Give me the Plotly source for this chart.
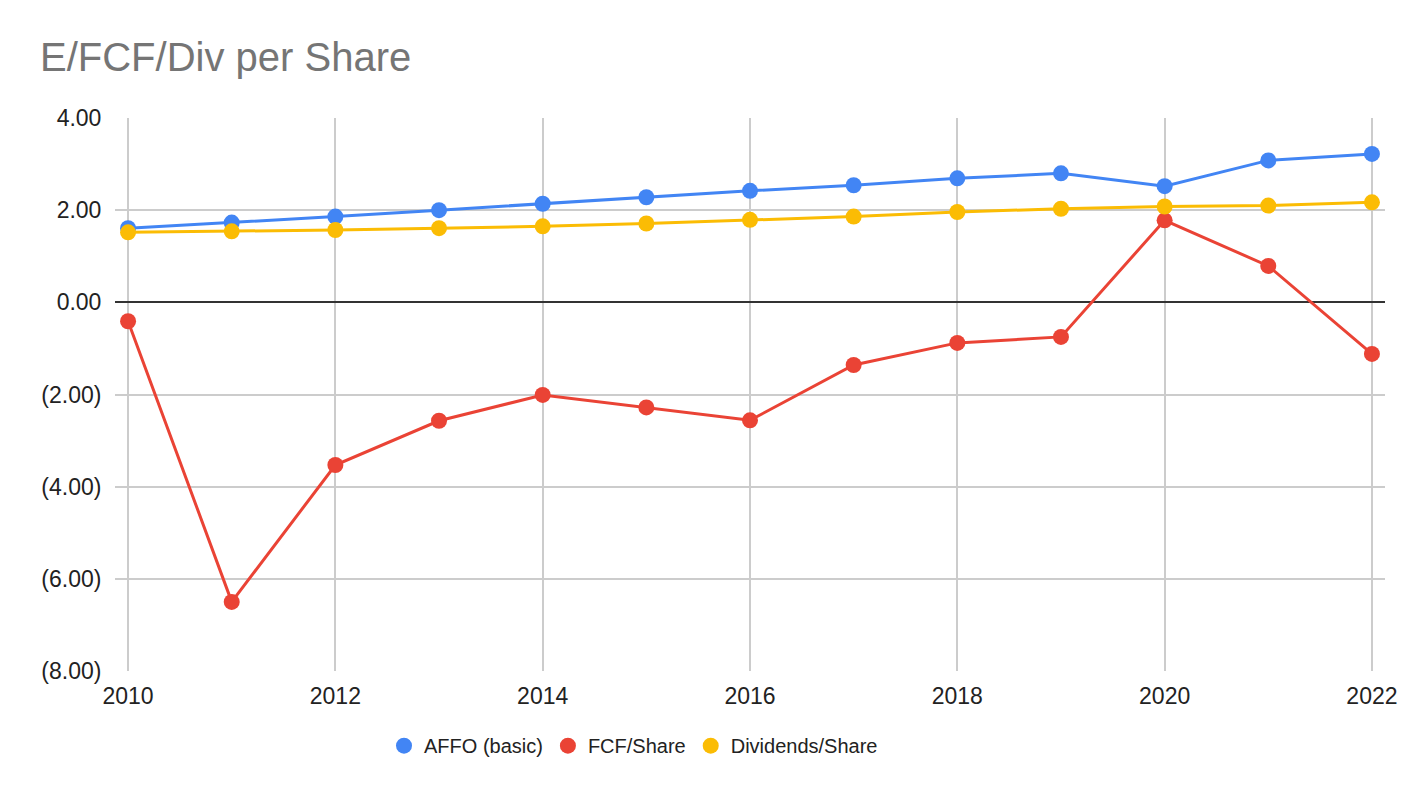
import plotly.graph_objects as go

years = [2010, 2011, 2012, 2013, 2014, 2015, 2016, 2017, 2018, 2019, 2020, 2021, 2022]
affo = [1.61, 1.73, 1.86, 2.00, 2.14, 2.28, 2.42, 2.54, 2.69, 2.80, 2.52, 3.08, 3.22]
fcf = [-0.41, -6.50, -3.53, -2.57, -2.01, -2.28, -2.56, -1.36, -0.88, -0.75, 1.78, 0.79, -1.12]
divs = [1.52, 1.54, 1.57, 1.61, 1.65, 1.71, 1.79, 1.86, 1.96, 2.03, 2.08, 2.10, 2.17]

y_ticks = [-8, -6, -4, -2, 0, 2, 4]
y_labels = ['(8.00)', '(6.00)', '(4.00)', '(2.00)', '0.00', '2.00', '4.00']
x_ticks = [2010, 2012, 2014, 2016, 2018, 2020, 2022]

series = [
    ('AFFO (basic)', affo, '#4285F4'),
    ('FCF/Share', fcf, '#EA4335'),
    ('Dividends/Share', divs, '#FBBC04'),
]

fig = go.Figure()
for name, vals, col in series:
    fig.add_trace(go.Scatter(
        x=years, y=vals, name=name,
        mode='lines+markers',
        line=dict(color=col, width=3),
        marker=dict(color=col, size=16),
        showlegend=False,
    ))
# legend shows only the dots, like the original
for name, vals, col in series:
    fig.add_trace(go.Scatter(
        x=[None], y=[None], name=name, mode='markers',
        marker=dict(color=col, size=18),
    ))

# page body has an 8px margin, so the figure is 16px smaller than the window
fig.update_layout(
    width=1408,
    height=782,
    paper_bgcolor='white',
    plot_bgcolor='white',
    font=dict(family='Liberation Sans, Arial', color='#222222'),
    title=dict(text='E/FCF/Div per Share', x=32 / 1408, xref='container', xanchor='left',
               y=0.937, yref='container', yanchor='middle',
               font=dict(size=40, color='#757575')),
    margin=dict(l=107, r=31, t=110, b=119),
    showlegend=True,
    legend=dict(orientation='h', x=(384 - 115) / 1270, xanchor='left', y=-0.135, yanchor='middle',
                font=dict(size=20, color='#222222'), itemsizing='trace',
                traceorder='normal'),
    xaxis=dict(range=[2009.874, 2022.126], tickvals=x_ticks, showgrid=True,
               gridcolor='#cccccc', gridwidth=1.5, zeroline=False, showline=False,
               ticks='outside', ticklen=4, tickcolor='rgba(0,0,0,0)',
               tickfont=dict(size=23, color='#222222')),
    yaxis=dict(range=[-8, 4], tickvals=y_ticks, ticktext=y_labels, showgrid=True,
               gridcolor='#cccccc', gridwidth=1.5, zeroline=True, zerolinecolor='#333333',
               zerolinewidth=1.5, showline=False,
               ticks='outside', ticklen=8, tickcolor='rgba(0,0,0,0)',
               tickfont=dict(size=23, color='#222222')),
)

fig.write_html('out.html')
